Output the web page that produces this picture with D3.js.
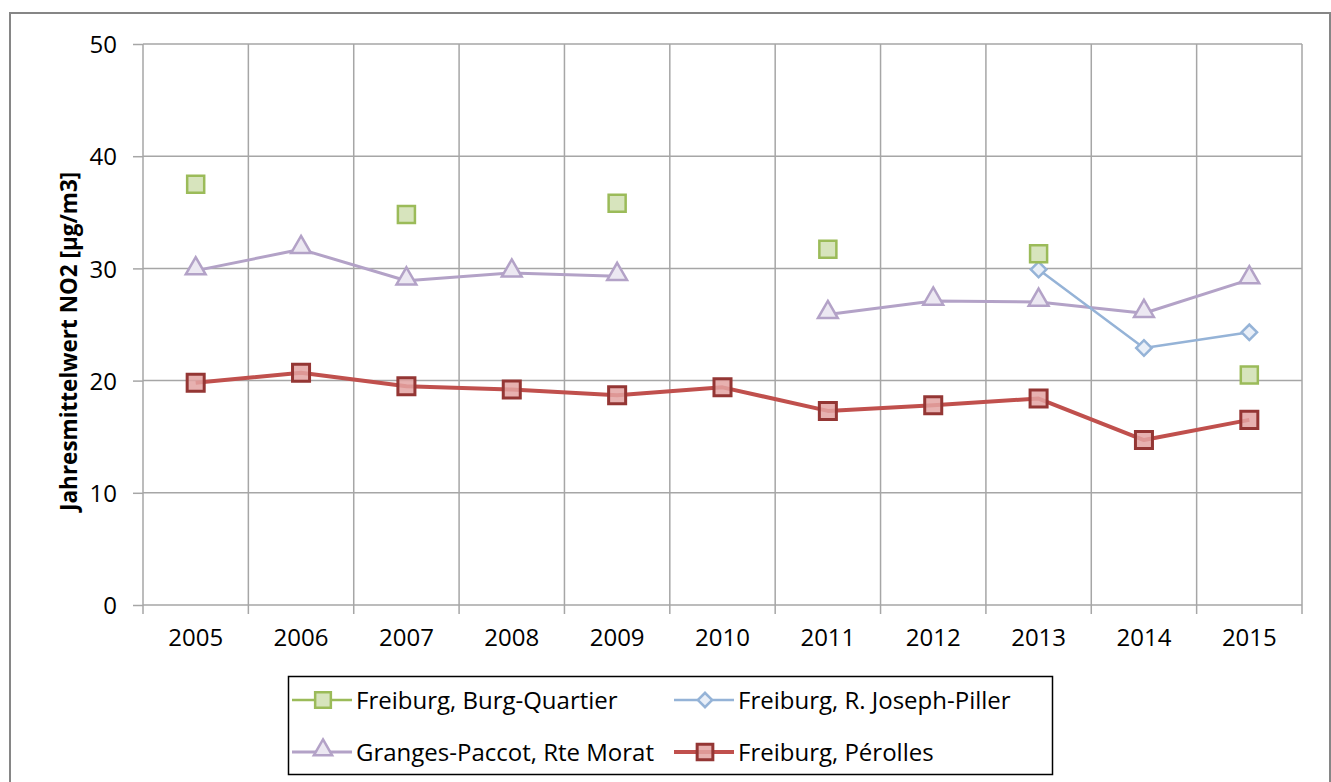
<!DOCTYPE html>
<html>
<head>
<meta charset="utf-8">
<script src="https://cdn.jsdelivr.net/npm/d3@7"></script>
<style>
  body { margin: 0; background: #fff; }
  text { font-family: "Open Sans", sans-serif; fill: #000; }
</style>
</head>
<body>
<div id="vis"></div>
<script>
const WIDTH = 1331;
const HEIGHT = 782;

const years = ["2005", "2006", "2007", "2008", "2009", "2010", "2011", "2012", "2013", "2014", "2015"];
const yTicks = [0, 10, 20, 30, 40, 50];

const burgQuartier = [37.5, null, 34.8, null, 35.8, null, 31.7, null, 31.3, null, 20.5];
const josephPiller = [null, null, null, null, null, null, null, null, 29.9, 22.9, 24.3];
const grangesPaccot = [29.8, 31.7, 28.9, 29.6, 29.3, null, 25.9, 27.1, 27.0, 26.0, 29.0];
const perolles = [19.8, 20.7, 19.5, 19.2, 18.7, 19.4, 17.3, 17.8, 18.4, 14.7, 16.5];

const seriesNames = ["Freiburg, Burg-Quartier", "Freiburg, R. Joseph-Piller", "Granges-Paccot, Rte Morat", "Freiburg, Pérolles"];

const series = [
  {name: seriesNames[0], values: burgQuartier, line: "#9bbb59", lw: 2.5, fill: "#d7e4bd", stroke: "#9bbb59", sw: 2.5, sym: d3.symbolSquare, size: 290, rot: 0},
  {name: seriesNames[1], values: josephPiller, line: "#95b3d7", lw: 2.5, fill: "#e9eff8", stroke: "#95b3d7", sw: 2.5, sym: d3.symbolSquare, size: 120, rot: 45},
  {name: seriesNames[2], values: grangesPaccot, line: "#b3a2c7", lw: 3, fill: "#ece8f2", stroke: "#b3a2c7", sw: 2.5, sym: d3.symbolTriangle, size: 170, rot: 0},
  {name: seriesNames[3], values: perolles, line: "#c0504d", lw: 4, fill: "#e3a3a2", stroke: "#943634", sw: 3, sym: d3.symbolSquare, size: 290, rot: 0}
];

const margin = {top: 44, right: 29, bottom: 177, left: 143};

const svg = d3.select("#vis").append("svg").attr("width", WIDTH).attr("height", HEIGHT);

// outer frame
svg.append("rect")
  .attr("x", 10).attr("y", 13).attr("width", 1320).attr("height", 800)
  .attr("fill", "#fff").attr("stroke", "#868686").attr("stroke-width", 2);

const x = d3.scaleBand().domain(years).range([margin.left, WIDTH - margin.right]).padding(0);
const y = d3.scaleLinear().domain([0, 50]).range([HEIGHT - margin.bottom, margin.top]);

const gridColor = "#a6a6a6";

// y axis ticks + labels
const yAxis = svg.append("g")
  .attr("transform", "translate(" + margin.left + ",0)")
  .call(d3.axisLeft(y).tickValues(yTicks).tickSize(10).tickPadding(16));
yAxis.select(".domain").remove();
yAxis.selectAll("line").attr("stroke", gridColor).attr("stroke-width", 1.5);
yAxis.selectAll("text").style("font-size", "24px").attr("dy", "0.36em");

// horizontal grid
svg.append("g")
  .selectAll("line")
  .data(yTicks)
  .join("line")
  .attr("x1", x.range()[0]).attr("x2", x.range()[1])
  .attr("y1", d => y(d)).attr("y2", d => y(d))
  .attr("stroke", gridColor).attr("stroke-width", 1.5);

// vertical grid at category edges
const edges = years.map(d => x(d)).concat([x.range()[1]]);
svg.append("g")
  .selectAll("line")
  .data(edges)
  .join("line")
  .attr("x1", d => d).attr("x2", d => d)
  .attr("y1", y(50)).attr("y2", y(0) + 9)
  .attr("stroke", gridColor).attr("stroke-width", 1.5);

// x labels
const xAxis = svg.append("g")
  .attr("transform", "translate(0," + y(0) + ")")
  .call(d3.axisBottom(x).tickSize(0).tickPadding(24));
xAxis.select(".domain").remove();
xAxis.selectAll("text").style("font-size", "24px");

// y title
svg.append("text")
  .attr("transform", "translate(77," + y(23.5) + ") rotate(-90)")
  .attr("text-anchor", "middle")
  .style("font-size", "22.5px")
  .style("font-weight", "bold")
  .text("Jahresmittelwert NO2 [µg/m3]");

const cx = d => x(d) + x.bandwidth() / 2;

// lines
const line = d3.line()
  .defined(d => d.v !== null)
  .x(d => cx(d.year))
  .y(d => y(d.v));

const order = [2, 1, 3, 0];
order.forEach(i => {
  const s = series[i];
  const pts = years.map((yr, j) => ({year: yr, v: s.values[j]}));
  svg.append("path")
    .datum(pts)
    .attr("fill", "none")
    .attr("stroke", s.line)
    .attr("stroke-width", s.lw)
    .attr("stroke-linejoin", "round")
    .attr("d", line);
  svg.append("g")
    .selectAll("path")
    .data(pts.filter(d => d.v !== null))
    .join("path")
    .attr("d", d3.symbol().type(s.sym).size(s.size))
    .attr("transform", d => "translate(" + cx(d.year) + "," + (y(d.v) + (s.sym === d3.symbolTriangle ? -2 : 0)) + ") rotate(" + s.rot + ")")
    .attr("fill", s.fill)
    .attr("fill-opacity", i === 3 ? 0.85 : 1)
    .attr("stroke", s.stroke)
    .attr("stroke-width", s.sw);
});

// legend
const lg = svg.append("g");
lg.append("rect")
  .attr("x", 288.5).attr("y", 676.5).attr("width", 764).attr("height", 98)
  .attr("fill", "#fff").attr("stroke", "#000").attr("stroke-width", 1.5);

const legendPos = [[292, 700], [674, 700], [292, 752], [674, 752]];
series.forEach((s, i) => {
  const [lx, ly] = legendPos[i];
  const g = lg.append("g").attr("transform", "translate(" + lx + "," + ly + ")");
  g.append("line").attr("x1", 0).attr("x2", 60).attr("y1", 0).attr("y2", 0)
    .attr("stroke", s.line).attr("stroke-width", s.lw);
  g.append("path")
    .attr("d", d3.symbol().type(s.sym).size(s.size * 0.85))
    .attr("transform", "translate(31," + (s.sym === d3.symbolTriangle ? -2 : 0) + ") rotate(" + s.rot + ")")
    .attr("fill", s.fill)
    .attr("fill-opacity", i === 3 ? 0.85 : 1)
    .attr("stroke", s.stroke)
    .attr("stroke-width", s.sw);
  g.append("text")
    .attr("x", 64).attr("y", 0).attr("dy", "0.36em")
    .style("font-size", "24px")
    .text(s.name);
});
</script>
</body>
</html>
